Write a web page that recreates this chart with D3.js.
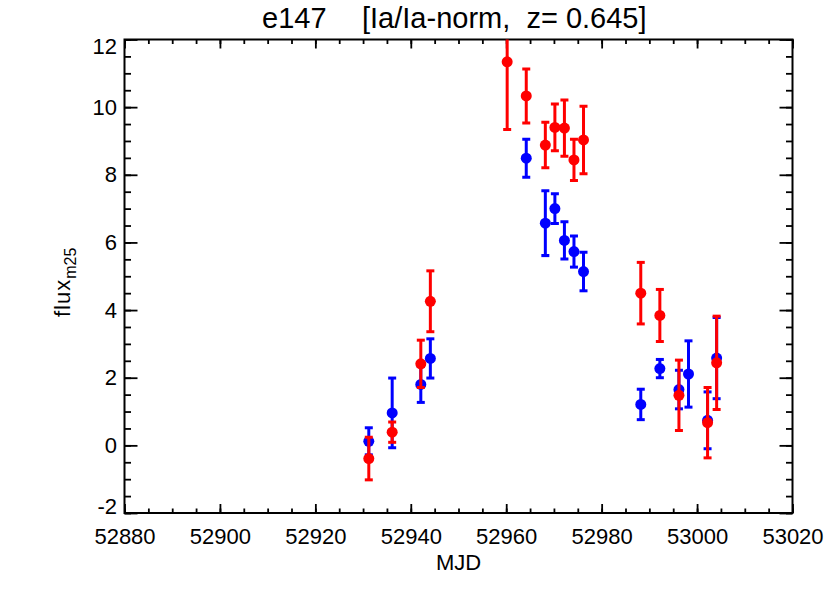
<!DOCTYPE html>
<html>
<head>
<meta charset="utf-8">
<script src="https://cdn.jsdelivr.net/npm/d3@7"></script>
<style>
  body { margin: 0; background: #fff; }
  text { font-family: "Liberation Sans", Arial, Helvetica, sans-serif; fill: #000; }
</style>
</head>
<body>
<script>
// blue series (MJD, flux, error)
const blueMjd  = [52931.2, 52936.1, 52942.1, 52944.1, 52964.2, 52968.2, 52970.2, 52972.2, 52974.2, 52976.2, 52988.2, 52992.2, 52996.2, 52998.2, 53002.2, 53004.1];
const blueFlux = [0.12, 0.96, 1.80, 2.57, 8.49, 6.57, 7.00, 6.06, 5.73, 5.14, 1.21, 2.27, 1.65, 2.11, 0.74, 2.58];
const blueErr  = [0.40, 1.03, 0.53, 0.58, 0.56, 0.96, 0.44, 0.55, 0.46, 0.57, 0.45, 0.27, 0.57, 0.98, 0.84, 1.20];

// red series
const redMjd  = [52931.2, 52936.1, 52942.1, 52944.1, 52960.2, 52964.2, 52968.2, 52970.2, 52972.2, 52974.2, 52976.2, 52988.2, 52992.2, 52996.2, 53002.2, 53004.1];
const redFlux = [-0.39, 0.39, 2.41, 4.26, 11.34, 10.33, 8.88, 9.40, 9.38, 8.44, 9.03, 4.50, 3.84, 1.48, 0.67, 2.44];
const redErr  = [0.63, 0.30, 0.70, 0.90, 2.00, 0.80, 0.67, 0.69, 0.83, 0.61, 1.00, 0.91, 0.77, 1.04, 1.04, 1.38];

const xTicks = [52880, 52900, 52920, 52940, 52960, 52980, 53000, 53020];
const yTicks = [-2, 0, 2, 4, 6, 8, 10, 12];
const xMinor = d3.range(52880, 53021, 5);
const yMinor = d3.range(-2, 12.01, 0.5);

function main(){
    const width = 830, height = 593;
    const left = 124.5, right = 792.5, top = 39.5, bottom = 513;

    const svg = d3.select("body").append("svg")
        .attr("width", width)
        .attr("height", height);

    const x = d3.scaleLinear().domain([52880, 53020]).range([left, right]);
    const y = d3.scaleLinear().domain([-2, 12]).range([bottom, top]);

    svg.append("clipPath").attr("id", "plotclip")
        .append("rect")
        .attr("x", left).attr("y", top)
        .attr("width", right - left).attr("height", bottom - top);

    // title
    const title = svg.append("text")
        .attr("y", 27.5)
        .attr("font-size", "29px")
        .style("white-space", "pre");
    title.append("tspan").attr("x", 262).text("e147");
    title.append("tspan").attr("x", 362).text("[Ia/Ia-norm,  z= 0.645]");

    // axes: ticks point inward on every side
    function styleAxis(g){
        g.select(".domain").remove();
        g.selectAll(".tick line").attr("stroke", "#000").attr("stroke-width", 1.8);
    }

    svg.append("g")
        .attr("transform", `translate(0,${bottom})`)
        .call(d3.axisBottom(x).tickValues(xMinor).tickSize(-4.5).tickFormat(""))
        .call(styleAxis);
    svg.append("g")
        .attr("transform", `translate(0,${bottom})`)
        .call(d3.axisBottom(x).tickValues(xTicks).tickSize(-9).tickPadding(15.5).tickFormat(d => String(d)))
        .call(styleAxis)
        .selectAll("text").attr("font-size", "22px");

    svg.append("g")
        .attr("transform", `translate(0,${top})`)
        .call(d3.axisTop(x).tickValues(xMinor).tickSize(-4.5).tickFormat(""))
        .call(styleAxis);
    svg.append("g")
        .attr("transform", `translate(0,${top})`)
        .call(d3.axisTop(x).tickValues(xTicks).tickSize(-9).tickFormat(""))
        .call(styleAxis);

    svg.append("g")
        .attr("transform", `translate(${left},0)`)
        .call(d3.axisLeft(y).tickValues(yMinor).tickSize(-6.5).tickFormat(""))
        .call(styleAxis);
    svg.append("g")
        .attr("transform", `translate(${left},0)`)
        .call(d3.axisLeft(y).tickValues(yTicks).tickSize(-13).tickPadding(7.5).tickFormat(d => String(d)))
        .call(styleAxis)
        .selectAll("text")
        .attr("font-size", "22px")
        // keep end labels inside the frame, as in the original
        .attr("dy", d => d === 12 ? "0.63em" : d === -2 ? "0em" : "0.32em");

    svg.append("g")
        .attr("transform", `translate(${right},0)`)
        .call(d3.axisRight(y).tickValues(yMinor).tickSize(-6.5).tickFormat(""))
        .call(styleAxis);
    svg.append("g")
        .attr("transform", `translate(${right},0)`)
        .call(d3.axisRight(y).tickValues(yTicks).tickSize(-13).tickFormat(""))
        .call(styleAxis);

    // frame
    svg.append("rect")
        .attr("x", left).attr("y", top)
        .attr("width", right - left).attr("height", bottom - top)
        .attr("fill", "none")
        .attr("stroke", "#000")
        .attr("stroke-width", 2);

    // axis titles
    svg.append("text")
        .attr("x", (left + right) / 2)
        .attr("y", 570)
        .attr("text-anchor", "middle")
        .attr("font-size", "22px")
        .text("MJD");

    const ylab = svg.append("text")
        .attr("transform", "translate(70,317) rotate(-90)")
        .attr("font-size", "22px");
    ylab.append("tspan").style("letter-spacing", "1px").text("flux");
    ylab.append("tspan").attr("font-size", "16px").attr("dy", 6).text("m25");

    // points with error bars
    const marks = svg.append("g").attr("clip-path", "url(#plotclip)");

    function drawSeries(mjd, flux, err, color){
        const data = mjd.map((m, i) => ({m: m, f: flux[i], e: err[i]}));
        const g = marks.append("g");
        const cap = 4;

        g.selectAll(".bar").data(data).enter().append("line")
            .attr("x1", d => x(d.m)).attr("x2", d => x(d.m))
            .attr("y1", d => y(d.f - d.e)).attr("y2", d => y(d.f + d.e))
            .attr("stroke", color).attr("stroke-width", 3);

        g.selectAll(".capTop").data(data).enter().append("line")
            .attr("x1", d => x(d.m) - cap).attr("x2", d => x(d.m) + cap)
            .attr("y1", d => y(d.f + d.e)).attr("y2", d => y(d.f + d.e))
            .attr("stroke", color).attr("stroke-width", 3);

        g.selectAll(".capBot").data(data).enter().append("line")
            .attr("x1", d => x(d.m) - cap).attr("x2", d => x(d.m) + cap)
            .attr("y1", d => y(d.f - d.e)).attr("y2", d => y(d.f - d.e))
            .attr("stroke", color).attr("stroke-width", 3);

        g.selectAll(".dot").data(data).enter().append("circle")
            .attr("cx", d => x(d.m))
            .attr("cy", d => y(d.f))
            .attr("r", 5.5)
            .attr("fill", color);
    }

    drawSeries(blueMjd, blueFlux, blueErr, "#0000ff");
    drawSeries(redMjd, redFlux, redErr, "#ff0000");
}
main();
</script>
</body>
</html>
